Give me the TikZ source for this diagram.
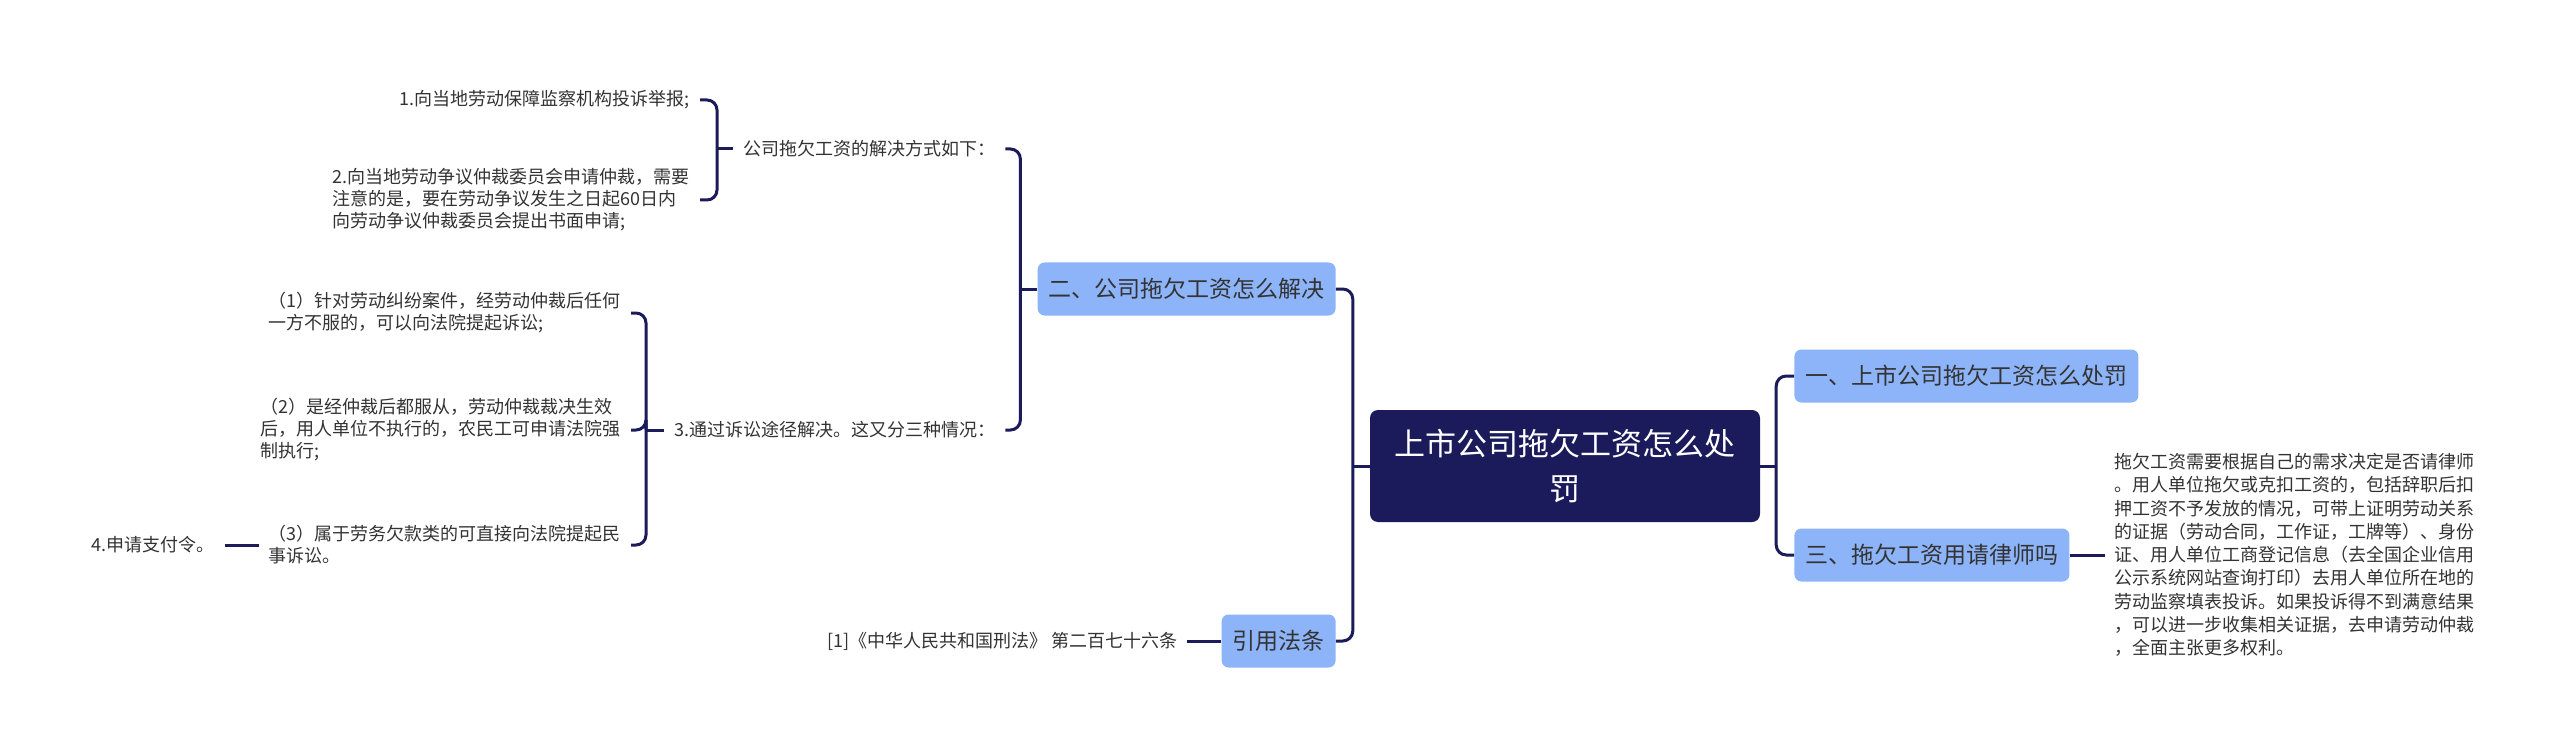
\documentclass[tikz,border=0pt]{standalone}
\usepackage{fontspec}
\setmainfont{Noto Sans CJK SC}
\usepackage{tikz}
\usetikzlibrary{positioning}
\usepackage{xcolor}
\definecolor{mapnavy}{HTML}{1B1B5C}
\definecolor{topicblue}{HTML}{8DB4F9}
\definecolor{leaftext}{HTML}{333333}
\tikzset{
  % mind map nodes
  rootnode/.style={
    rectangle, rounded corners=8pt,
    fill=mapnavy, text=white,
    align=center, minimum width=390pt, minimum height=112pt,
    font=\fontsize{31pt}{45pt}\selectfont
  },
  topicnode/.style={
    rectangle, rounded corners=7pt,
    fill=topicblue, text=leaftext,
    minimum height=53pt, inner xsep=11pt,
    font=\fontsize{23pt}{28pt}\selectfont
  },
  leafnode/.style={
    rectangle, align=left, text=leaftext,
    inner xsep=10pt, inner ysep=2pt,
    font=\fontsize{18pt}{22pt}\selectfont
  },
  longleaf/.style={
    leafnode, font=\fontsize{18pt}{23.3pt}\selectfont
  },
  linkstyle/.style={
    draw=mapnavy, line width=3pt, rounded corners=10pt
  }
}

\begin{document}
\begin{tikzpicture}[x=1pt, y=-1pt]

  \fill[white] (0,0) rectangle (2560,746);

  % --- Root ---
  \node[rootnode] (root) at (1565,466) {上市公司拖欠工资怎么处\\罚};

  % --- Right branch ---
  \node[topicnode, right=34pt of root, yshift=90pt] (punish) {一、上市公司拖欠工资怎么处罚};
  \node[topicnode, right=34pt of root, yshift=-89pt] (lawyer) {三、拖欠工资用请律师吗};
  \node[longleaf, right=35pt of lawyer] (lawyer_txt)
    {拖欠工资需要根据自己的需求决定是否请律师\\
     。用人单位拖欠或克扣工资的，包括辞职后扣\\
     押工资不予发放的情况，可带上证明劳动关系\\
     的证据（劳动合同，工作证，工牌等）、身份\\
     证、用人单位工商登记信息（去全国企业信用\\
     公示系统网站查询打印）去用人单位所在地的\\
     劳动监察填表投诉。如果投诉得不到满意结果\\
     ，可以进一步收集相关证据，去申请劳动仲裁\\
     ，全面主张更多权利。};

  \coordinate[right=16pt of root.east] (root_r);
  \draw[linkstyle] (root.east) -- (root_r);
  \draw[linkstyle] (root_r) |- (punish.west);
  \draw[linkstyle] (root_r) |- (lawyer.west);
  \draw[linkstyle] (lawyer.east) -- (lawyer_txt.west);

  % --- Left branch ---
  \node[topicnode, left=34pt of root, yshift=177pt] (solve) {二、公司拖欠工资怎么解决};
  \node[topicnode, left=34pt of root, yshift=-175pt] (law) {引用法条};
  \node[leafnode, left=34pt of law] (law_ref) {[1]《中华人民共和国刑法》 第二百七十六条};

  \coordinate[left=17pt of root.west] (root_l);
  \draw[linkstyle] (root.west) -- (root_l);
  \draw[linkstyle] (root_l) |- (solve.east);
  \draw[linkstyle] (root_l) |- (law.east);
  \draw[linkstyle] (law.west) -- (law_ref.east);

  % ways of solving
  \node[leafnode, left=32pt of solve, yshift=140pt] (ways) {公司拖欠工资的解决方式如下：};
  \node[leafnode, left=32pt of solve, yshift=-141pt] (suit) {3.通过诉讼途径解决。这又分三种情况：};

  \coordinate[left=17pt of solve.west] (solve_l);
  \draw[linkstyle] (solve.west) -- (solve_l);
  \draw[linkstyle] (solve_l) |- (ways.east);
  \draw[linkstyle] (solve_l) |- (suit.east);

  \node[leafnode, left=33pt of ways, yshift=49pt] (ways_a) {1.向当地劳动保障监察机构投诉举报;};
  \node[leafnode, left=33pt of ways, yshift=-51pt] (ways_b)
    {2.向当地劳动争议仲裁委员会申请仲裁，需要\\
     注意的是，要在劳动争议发生之日起60日内\\
     向劳动争议仲裁委员会提出书面申请;};

  \coordinate[left=16pt of ways.west] (ways_l);
  \draw[linkstyle] (ways.west) -- (ways_l);
  \draw[linkstyle] (ways_l) |- (ways_a.east);
  \draw[linkstyle] (ways_l) |- (ways_b.east);

  % lawsuit cases
  \node[leafnode, left=33pt of suit, yshift=117pt] (suit_a)
    {（1）针对劳动纠纷案件，经劳动仲裁后任何\\
     一方不服的，可以向法院提起诉讼;};
  \node[leafnode, left=33pt of suit] (suit_b)
    {（2）是经仲裁后都服从，劳动仲裁裁决生效\\
     后，用人单位不执行的，农民工可申请法院强\\
     制执行;};
  \node[leafnode, left=33pt of suit, yshift=-115pt] (suit_c)
    {（3）属于劳务欠款类的可直接向法院提起民\\
     事诉讼。};
  \node[leafnode, left=34pt of suit_c] (suit_d) {4.申请支付令。};

  \coordinate[left=18pt of suit.west] (suit_l);
  \draw[linkstyle] (suit.west) -- (suit_l);
  \draw[linkstyle] (suit_l) |- (suit_a.east);
  \draw[linkstyle] (suit_l) |- (suit_b.east);
  \draw[linkstyle] (suit_l) |- (suit_c.east);
  \draw[linkstyle] (suit_c.west) -- (suit_d.east);

\end{tikzpicture}
\end{document}
